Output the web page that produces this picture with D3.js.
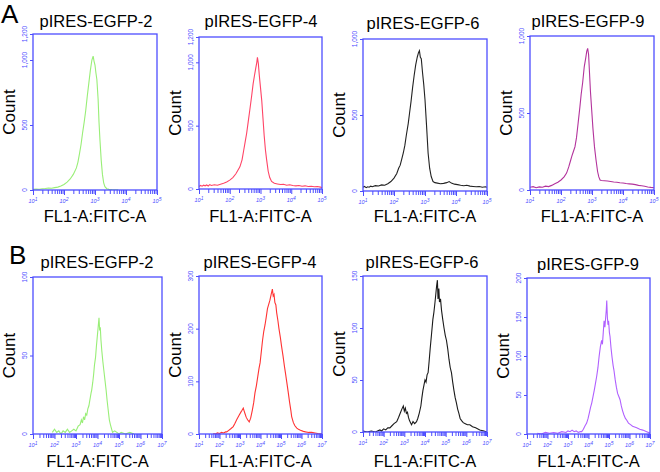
<!DOCTYPE html>
<html>
<head>
<meta charset="utf-8">
<script src="https://cdn.jsdelivr.net/npm/d3@7/dist/d3.min.js"></script>
<style>
  html, body { margin: 0; padding: 0; background: #fff; }
  svg { display: block; font-family: "Liberation Sans", Arial, sans-serif; }
</style>
</head>
<body>
<svg id="chart" width="660" height="472"></svg>
<script>
// ---------------- DATA ----------------
const titles = ["pIRES-EGFP-2", "pIRES-EGFP-4", "pIRES-EGFP-6", "pIRES-EGFP-9",
                "pIRES-EGFP-2", "pIRES-EGFP-4", "pIRES-EGFP-6", "pIRES-GFP-9"];
const panelLetters = ["A", "B"];
const yLabel = "Count";
const xLabel = "FL1-A:FITC-A";
const yMax = [1200, 1200, 1000, 1000, 100, 300, 150, 200];
const yTicks = [[0, 500, 1000, 1200], [0, 500, 1000, 1200], [0, 500, 1000], [0, 500, 1000],
                [0, 50, 100], [0, 100, 200, 300], [0, 50, 100, 150], [0, 50, 100, 150, 200]];
const xDecades = [[1, 5], [1, 5], [1, 5], [1, 5], [1, 7], [1, 7], [1, 7], [1, 7]];

// histograms: [log10(FITC), count]
const histA1 = [[1.0,5],[1.1,8],[1.2,6],[1.3,10],[1.4,12],[1.5,15],[1.6,14],[1.7,18],[1.8,22],[1.9,30],[2.0,42],[2.1,60],[2.2,85],[2.3,120],[2.4,170],[2.45,215],[2.5,280],[2.55,350],[2.6,440],[2.65,520],[2.7,610],[2.75,720],[2.8,820],[2.85,920],[2.9,1000],[2.94,1030],[2.97,990],[3.0,960],[3.03,900],[3.06,850],[3.1,700],[3.13,520],[3.16,385],[3.2,230],[3.24,120],[3.28,55],[3.32,25],[3.38,10],[3.45,5],[3.55,3],[3.65,2],[3.75,1]];
const histA2 = [[1.0,20],[1.05,28],[1.1,22],[1.15,30],[1.2,25],[1.25,32],[1.3,24],[1.35,35],[1.4,28],[1.5,33],[1.6,30],[1.7,38],[1.8,45],[1.9,55],[2.0,70],[2.1,90],[2.2,120],[2.27,150],[2.33,175],[2.4,230],[2.45,300],[2.5,370],[2.55,440],[2.6,530],[2.65,620],[2.71,730],[2.76,830],[2.8,890],[2.85,960],[2.88,1000],[2.9,1040],[2.93,990],[2.96,900],[3.0,800],[3.04,700],[3.08,560],[3.12,420],[3.16,310],[3.2,230],[3.25,140],[3.3,90],[3.36,60],[3.45,45],[3.55,40],[3.65,35],[3.75,38],[3.85,30],[3.95,33],[4.05,28],[4.15,25],[4.25,28],[4.35,22],[4.45,25],[4.55,20],[4.65,22],[4.75,18],[4.85,20],[4.95,15],[5.0,12]];
const histA3 = [[1.0,25],[1.05,30],[1.1,22],[1.15,28],[1.2,25],[1.25,32],[1.3,28],[1.4,35],[1.5,33],[1.6,40],[1.7,38],[1.8,48],[1.9,62],[2.0,85],[2.09,115],[2.15,150],[2.2,170],[2.25,210],[2.3,250],[2.35,300],[2.4,370],[2.46,445],[2.5,510],[2.55,590],[2.6,680],[2.65,760],[2.7,830],[2.75,880],[2.79,910],[2.82,923],[2.85,880],[2.88,870],[2.92,780],[2.96,700],[3.0,600],[3.05,430],[3.1,250],[3.15,150],[3.2,95],[3.26,62],[3.32,55],[3.4,52],[3.5,48],[3.6,50],[3.7,55],[3.78,62],[3.85,52],[3.95,45],[4.05,42],[4.15,38],[4.25,35],[4.35,38],[4.45,32],[4.55,30],[4.65,28],[4.75,30],[4.85,25],[4.95,28],[5.0,25]];
const histA4 = [[1.0,18],[1.1,22],[1.2,15],[1.3,20],[1.4,18],[1.5,25],[1.6,22],[1.7,30],[1.8,40],[1.9,50],[2.0,65],[2.1,85],[2.18,110],[2.25,150],[2.3,185],[2.35,220],[2.4,250],[2.45,280],[2.5,340],[2.55,430],[2.61,540],[2.65,620],[2.7,700],[2.75,800],[2.8,860],[2.83,900],[2.86,920],[2.89,880],[2.92,760],[2.95,640],[2.99,520],[3.03,400],[3.08,280],[3.13,195],[3.18,120],[3.22,85],[3.26,65],[3.3,62],[3.4,60],[3.5,58],[3.6,55],[3.7,52],[3.8,50],[3.9,47],[4.0,45],[4.1,42],[4.2,40],[4.3,38],[4.4,35],[4.5,30],[4.6,28],[4.7,24],[4.8,20],[4.9,17],[5.0,15]];
const histB1 = [[1.9,1],[2.0,3],[2.1,1],[2.2,2],[2.3,0],[2.4,2],[2.5,1],[2.6,3],[2.7,1],[2.8,2],[2.9,3],[3.0,2],[3.1,5],[3.19,6],[3.25,9],[3.3,7],[3.35,11],[3.4,9],[3.45,13],[3.5,12],[3.55,16],[3.6,18],[3.65,22],[3.7,26],[3.73,28],[3.78,33],[3.82,38],[3.86,44],[3.91,49],[3.95,56],[3.99,62],[4.03,68],[4.07,74],[4.1,66],[4.13,68],[4.16,60],[4.2,53],[4.25,46],[4.3,40],[4.35,34],[4.4,28],[4.45,21],[4.5,15],[4.55,9],[4.6,6],[4.66,3],[4.7,1],[4.8,2],[4.9,1],[5.0,0],[5.1,1],[5.3,0],[5.5,1],[5.7,0]];
const histB2 = [[1.7,1],[1.8,0],[1.9,2],[2.0,1],[2.1,3],[2.2,2],[2.3,4],[2.35,4],[2.45,7],[2.55,10],[2.67,14],[2.75,20],[2.85,28],[2.95,35],[3.05,42],[3.1,45],[3.16,49],[3.2,44],[3.25,38],[3.3,32],[3.37,27],[3.45,23],[3.52,30],[3.6,45],[3.67,60],[3.73,78],[3.8,92],[3.87,110],[3.93,125],[3.98,135],[4.05,160],[4.1,178],[4.16,195],[4.22,207],[4.28,222],[4.34,238],[4.4,246],[4.46,254],[4.52,265],[4.58,275],[4.62,262],[4.66,265],[4.7,250],[4.75,245],[4.79,230],[4.85,215],[4.9,200],[4.97,183],[5.03,166],[5.1,148],[5.17,128],[5.22,115],[5.28,99],[5.35,80],[5.42,60],[5.48,45],[5.52,33],[5.6,22],[5.67,16],[5.77,11],[5.85,9],[5.95,7],[6.09,5],[6.2,4],[6.35,3],[6.5,3],[6.66,2],[6.8,1],[7.0,0]];
const histB3 = [[1.0,1],[1.2,0],[1.4,1],[1.6,0],[1.82,2],[1.9,1],[2.0,3],[2.1,2],[2.2,4],[2.3,4],[2.4,6],[2.5,8],[2.63,10],[2.72,14],[2.8,18],[2.88,22],[2.95,25],[3.0,20],[3.05,23],[3.1,18],[3.15,19],[3.2,14],[3.25,11],[3.3,9],[3.35,7],[3.42,10],[3.5,8],[3.59,10],[3.65,13],[3.72,18],[3.8,25],[3.85,33],[3.9,40],[3.95,45],[4.0,50],[4.05,48],[4.1,55],[4.15,57],[4.2,68],[4.25,80],[4.32,95],[4.38,108],[4.43,115],[4.48,124],[4.52,132],[4.56,140],[4.6,146],[4.63,128],[4.67,138],[4.7,125],[4.75,128],[4.8,117],[4.86,108],[4.92,100],[4.98,93],[5.04,88],[5.1,80],[5.16,70],[5.22,62],[5.28,57],[5.34,48],[5.4,40],[5.46,33],[5.52,28],[5.58,22],[5.64,18],[5.7,13],[5.77,11],[5.85,9],[5.95,8],[6.05,7],[6.17,7],[6.3,5],[6.45,4],[6.65,2],[6.85,1],[7.0,0]];
const histB4 = [[1.5,1],[1.7,0],[1.9,2],[2.1,1],[2.3,2],[2.5,1],[2.7,3],[2.9,2],[3.0,4],[3.1,3],[3.2,5],[3.3,3],[3.4,4],[3.5,2],[3.6,3],[3.67,3],[3.75,6],[3.82,10],[3.91,14],[3.98,20],[4.05,28],[4.1,34],[4.16,40],[4.22,48],[4.28,56],[4.34,65],[4.4,74],[4.46,85],[4.52,100],[4.58,112],[4.64,120],[4.68,115],[4.72,130],[4.76,145],[4.8,137],[4.84,150],[4.87,160],[4.89,171],[4.92,150],[4.95,140],[4.98,145],[5.02,130],[5.05,125],[5.1,110],[5.15,98],[5.2,88],[5.24,82],[5.3,70],[5.36,60],[5.42,52],[5.48,48],[5.54,44],[5.6,36],[5.66,30],[5.72,25],[5.8,20],[5.86,18],[5.95,14],[6.05,12],[6.15,10],[6.25,9],[6.35,8],[6.5,6],[6.65,5],[6.84,3],[7.0,1]];
const histograms = [histA1, histA2, histA3, histA4, histB1, histB2, histB3, histB4];

// ---------------- LAYOUT & STYLE ----------------
const layout = [
  {l: 33,  t: 34,  w: 124, h: 156, tx: 96,  ty: 27},
  {l: 199, t: 37,  w: 123, h: 152, tx: 261, ty: 27},
  {l: 363, t: 39,  w: 124, h: 152, tx: 423, ty: 29},
  {l: 530, t: 36,  w: 124, h: 154, tx: 588, ty: 27},
  {l: 33,  t: 277, w: 129, h: 157, tx: 97,  ty: 268},
  {l: 199, t: 276, w: 123, h: 158, tx: 260, ty: 268},
  {l: 363, t: 276, w: 124, h: 156, tx: 422, ty: 268},
  {l: 527, t: 278, w: 123, h: 156, tx: 588, ty: 270}
];
const lineColors = ["#99ee77", "#ff4466", "#222222", "#b3339c",
                    "#99ee77", "#ff3333", "#1a1a1a", "#b060ff"];
const axisColor = "#4d4dff";
const rowXLabelY = [222, 467];
const letterPos = [{x: 1, y: 23}, {x: 9, y: 264}];

// ---------------- DRAW ----------------
const svg = d3.select("#chart");

panelLetters.forEach((L, i) => {
  svg.append("text").attr("x", letterPos[i].x).attr("y", letterPos[i].y)
    .attr("font-size", 26).attr("fill", "#000").text(L);
});

histograms.forEach((data, i) => {
  const p = layout[i];
  const [d0, d1] = xDecades[i];
  const x = d3.scaleLinear().domain([d0, d1]).range([p.l, p.l + p.w]);
  const y = d3.scaleLinear().domain([0, yMax[i]]).range([p.t + p.h, p.t]);
  const g = svg.append("g");

  const cid = "clip" + i;
  svg.append("clipPath").attr("id", cid).append("rect")
    .attr("x", p.l).attr("y", p.t).attr("width", p.w).attr("height", p.h);

  const line = d3.line().x(d => x(d[0])).y(d => y(d[1]));
  g.append("path").datum(data)
    .attr("clip-path", `url(#${cid})`)
    .attr("d", line).attr("fill", "none")
    .attr("stroke", lineColors[i]).attr("stroke-width", 1.1);

  g.append("rect").attr("x", p.l).attr("y", p.t).attr("width", p.w).attr("height", p.h)
    .attr("fill", "none").attr("stroke", axisColor).attr("stroke-width", 1.3);

  const minor = [];
  for (let dd = d0; dd < d1; dd++) {
    for (let k = 2; k <= 9; k++) minor.push(dd + Math.log10(k));
  }
  const major = d3.range(d0, d1 + 1);
  const xAxisMinor = d3.axisBottom(x).tickValues(minor).tickSize(4).tickFormat("");
  const xAxisMajor = d3.axisBottom(x).tickValues(major).tickSize(5).tickFormat("");
  [xAxisMinor, xAxisMajor].forEach(ax => {
    const a = g.append("g").attr("transform", `translate(0,${p.t + p.h})`).call(ax);
    a.select(".domain").remove();
    a.selectAll("line").attr("stroke", axisColor).attr("stroke-width", 1);
  });
  major.forEach(m => {
    const t = g.append("text").attr("x", x(m)).attr("y", p.t + p.h + 13)
      .attr("text-anchor", "middle").attr("fill", axisColor).attr("font-size", 5.5)
      .attr("font-style", "italic");
    t.append("tspan").text("10");
    t.append("tspan").attr("dy", -2.5).attr("font-size", 5).text(m);
  });

  const yAxis = d3.axisLeft(y).tickValues(yTicks[i]).tickSize(3).tickFormat("");
  const ya = g.append("g").attr("transform", `translate(${p.l},0)`).call(yAxis);
  ya.select(".domain").remove();
  ya.selectAll("line").attr("stroke", axisColor);
  yTicks[i].forEach(v => {
    g.append("text")
      .attr("transform", `translate(${p.l - 6},${y(v)}) rotate(-90)`)
      .attr("text-anchor", "middle").attr("fill", axisColor).attr("font-size", 6.5)
      .text(d3.format(",")(v));
  });

  g.append("text").attr("x", p.tx).attr("y", p.ty).attr("text-anchor", "middle")
    .attr("font-size", 16.5).attr("fill", "#000").text(titles[i]);
  g.append("text")
    .attr("transform", `translate(${p.l - 18},${p.t + p.h / 2}) rotate(-90)`)
    .attr("text-anchor", "middle").attr("font-size", 17).attr("fill", "#000").text(yLabel);
  g.append("text").attr("x", p.l + p.w / 2).attr("y", rowXLabelY[i < 4 ? 0 : 1])
    .attr("text-anchor", "middle").attr("font-size", 16.5).attr("fill", "#000").text(xLabel);
});
</script>
</body>
</html>
